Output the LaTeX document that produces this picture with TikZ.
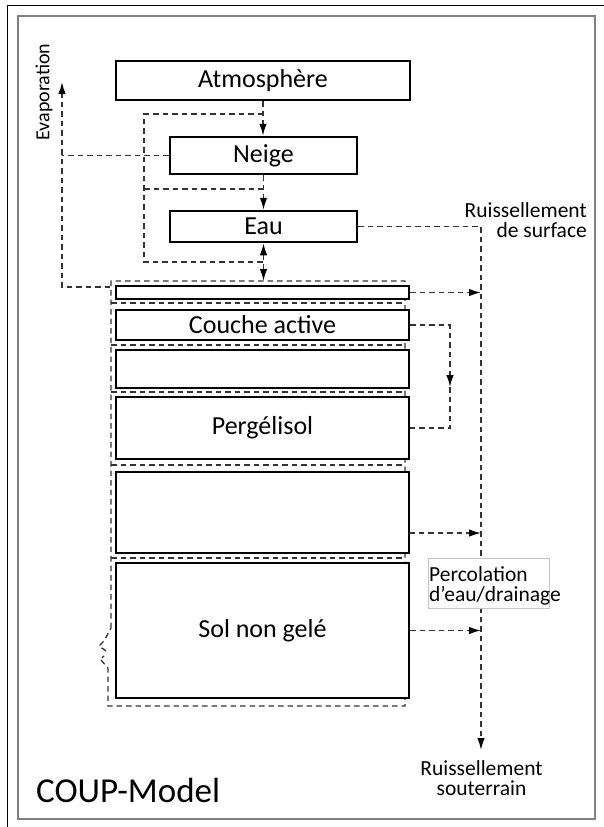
\documentclass[tikz,border=0pt]{standalone}
\usepackage{fontspec}
\setmainfont{Carlito}
\usetikzlibrary{arrows.meta,calc}
\definecolor{dashgray}{HTML}{333333}
\begin{document}
\begin{tikzpicture}[x=1pt,y=-1pt,
  layerbox/.style={draw=black, line width=2.5pt, fill=white, inner sep=0pt,
    font=\fontsize{26}{30}\selectfont},
  dsh/.style={draw=dashgray, line width=1.5pt, dash pattern=on 5.5pt off 4pt},
  arr/.style={-{Latex[length=12pt,width=7.5pt,black]}},
  arrboth/.style={{Latex[length=12pt,width=7.5pt,black]}-{Latex[length=12pt,width=7.5pt,black]}},
  lbl/.style={inner sep=0pt, font=\fontsize{21.5}{20}\selectfont}]
\useasboundingbox (0,0) rectangle (604,827);
% frames
\draw[black, line width=1pt] (7,827) -- (7,5) -- (604,5);
\draw[gray, line width=1.6pt] (18,16) rectangle (595,819);

% dashed soil frame
\draw[dsh, line width=1.3pt] (111,628) -- (111,281) -- (405,281) -- (405,706) -- (108,706) -- (108,668)
  -- (100,659) -- (104,656) (106,651) -- (99,646) -- (104,641) -- (111,628);
\foreach \yy in {303,345,392,465,558} \draw[dsh, line width=1.3pt] (111,\yy) -- (405,\yy);

% boxes
\node[layerbox, minimum width=294pt, minimum height=39pt] (atm) at (263,80.5) {Atmosphère};
\node[layerbox, minimum width=187pt, minimum height=37pt] (neige) at (263.5,155.5) {Neige};
\node[layerbox, minimum width=187pt, minimum height=31pt] (eau) at (263.5,226.5) {Eau};
\node[layerbox, minimum width=293pt, minimum height=13pt] (l1) at (262.5,292.5) {};
\node[layerbox, minimum width=293pt, minimum height=30pt] (l2) at (262.5,325) {Couche active};
\node[layerbox, minimum width=293pt, minimum height=38pt] (l3) at (262.5,369) {};
\node[layerbox, minimum width=293pt, minimum height=62pt] (l4) at (262.5,428) {Pergélisol};
\node[layerbox, minimum width=293pt, minimum height=81pt] (l5) at (262.5,512.5) {};
\node[layerbox, minimum width=293pt, minimum height=135pt] (l6) at (262.5,630.5) {Sol non gelé};

% coordinates
\coordinate (lpA) at (144,114);
\coordinate (lpB) at (144,189);
\coordinate (lpC) at (144,262);
\coordinate (ftop) at (263.5,281);
\coordinate (evtip) at (62,82);
\coordinate (evbot) at (62,287);
\coordinate (fcorner) at (110,287);
\coordinate (rvtop) at (481,226.5);
\coordinate (rvend) at (481,750);
\coordinate (l5e) at (409,533);
\coordinate (caA) at (450,325);
\coordinate (caM) at (450,387);
\coordinate (caB) at (450,428);

% snow / water loop
\draw[dsh,arr] (atm.south) -- (atm.south |- neige.north);
\draw[dsh] (atm.south |- lpA) -- (lpA) -- (lpC) -- (lpC -| eau.south);
\draw[dsh] (lpB) -- (lpB -| neige.south);
\draw[dsh,arr] (neige.south) -- (eau.north);
\draw[dsh,arrboth] (eau.south) -- (ftop);

% evaporation
\draw[dsh,arr] (fcorner) -- (evbot) -- (evtip);
\draw[dsh] (neige.west) -- (neige.west -| evtip);
\node[lbl, rotate=90, font=\fontsize{20}{22}\selectfont] (evap) at (44,92) {Evaporation};

% right runoff
\draw[dsh,arr] (eau.east) -- (rvtop) -- (rvend);
\draw[dsh,arr] (l1.east) -- (l1.east -| rvend);
\draw[dsh,arr] (l5e) -- (l5e -| rvend);
\draw[dsh,arr] (l6.east) -- (l6.east -| rvend);

% active layer loop
\draw[dsh,arr] (l2.east) -- (caA) -- (caM);
\draw[dsh] (caM) -- (caB) -- (l4.east);

% labels
\node[lbl, align=right, anchor=north east] (surf) at (587,202.5) {Ruissellement\\de surface};
\node[draw=gray!45, line width=0.8pt, fill=white, inner sep=0pt, minimum width=121pt, minimum height=50pt] (pbox) at (488.5,583) {};
\node[lbl, align=left, anchor=north west] (perc) at (429,566.5) {Percolation\\d’eau/drainage};
\node[lbl, align=center, anchor=north] (sout) at (481.5,760.5) {Ruissellement\\souterrain};
\node[inner sep=0pt, anchor=base west, font=\fontsize{35}{40}\selectfont] (coup) at (36,802) {COUP-Model};
\end{tikzpicture}
\end{document}
